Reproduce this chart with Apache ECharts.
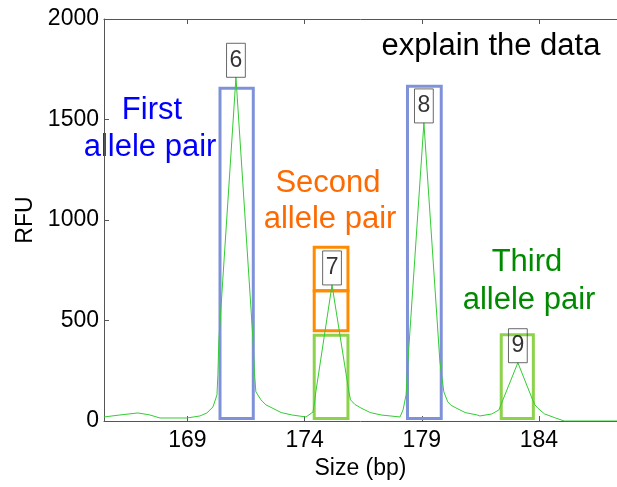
<!DOCTYPE html>
<html>
<head>
<meta charset="utf-8">
<script src="https://cdn.jsdelivr.net/npm/echarts@6/dist/echarts.min.js"></script>
<style>
  html, body { margin: 0; padding: 0; background: #fff; }
  #chart { width: 617px; height: 487px; }
</style>
</head>
<body>
<div id="chart"></div>
<script>
// electropherogram trace (size in bp, RFU)
const curveX = [165.44, 166.12, 166.89, 167.40, 167.83, 168.98, 169.53, 169.83, 170.09, 170.26,
  170.30, 170.34, 171.07, 171.80, 171.86, 171.92, 172.14, 172.35, 172.61, 173.00,
  173.46, 174.06, 174.36, 174.44, 174.48, 175.17, 175.89, 175.96, 176.15, 176.40,
  176.80, 177.26, 178.07, 178.20, 178.33, 178.41, 179.09, 179.77, 179.94, 180.11,
  180.25, 180.46, 180.85, 181.36, 181.48, 181.99, 182.29, 182.41, 183.10, 183.73,
  183.82, 183.94, 184.24, 184.71, 185.08, 187.33];
const curveY = [20, 30, 40, 30, 15, 15, 25, 40, 70, 130,
  230, 400, 1710, 400, 240, 145, 105, 80, 65, 42,
  30, 20, 45, 105, 145, 677, 145, 105, 82, 65,
  42, 30, 20, 55, 130, 300, 1483, 300, 145, 95,
  78, 65, 42, 30, 25, 35, 55, 90, 290, 105,
  82, 65, 35, 15, 0, 0];

// allele call labels
const peakNames = ['6', '7', '8', '9'];
const peakX = [171.07, 175.17, 179.09, 183.10];
const peakY = [1710, 677, 1483, 290];

// boxes around the peaks
const boxX0 = [170.39, 174.41, 174.41, 174.41, 178.39, 182.39];
const boxX1 = [171.81, 175.85, 175.85, 175.85, 179.83, 183.76];
const boxY0 = [12, 12, 449, 648, 12, 12];
const boxY1 = [1655, 426, 648, 864, 1665, 429];
const boxKind = ['pair', 'call', 'extra', 'extra', 'pair', 'call'];

const xTicks = [169, 174, 179, 184];
const xMin = 165.44, xMax = 187.33;

const FONT = "'Liberation Sans', Arial, Helvetica, sans-serif";
const axisColor = '#555';
const boxColors = { pair: '#7f92d9', call: '#8cd24a', extra: '#ff8c00' };

const chart = echarts.init(document.getElementById('chart'));

const areas = boxX0.map((x0, i) => [
  { coord: [x0, boxY0[i]], itemStyle: { borderColor: boxColors[boxKind[i]] } },
  { coord: [boxX1[i], boxY1[i]] }
]);

chart.setOption({
  animation: false,
  grid: { left: 104, right: 0, top: 19, bottom: 66 },
  xAxis: [
    {
      type: 'value', min: xMin, max: xMax,
      name: 'Size (bp)', nameLocation: 'middle', nameGap: 34,
      nameTextStyle: { fontFamily: FONT, fontSize: 23, color: '#000' },
      axisLine: { lineStyle: { color: axisColor, width: 1 } },
      axisTick: { inside: true, length: 5, customValues: xTicks, lineStyle: { color: axisColor } },
      axisLabel: { customValues: xTicks, margin: 8, fontFamily: FONT, fontSize: 23, color: '#000' },
      splitLine: { show: false }
    },
    {
      type: 'value', min: xMin, max: xMax, position: 'top',
      axisLine: { show: true, lineStyle: { color: axisColor, width: 1 } },
      axisTick: { inside: true, length: 5, customValues: xTicks, lineStyle: { color: axisColor } },
      axisLabel: { show: false },
      splitLine: { show: false }
    }
  ],
  yAxis: {
    type: 'value', min: 0, max: 2000, interval: 500,
    name: 'RFU', nameLocation: 'middle', nameGap: 55,
    nameTextStyle: { fontFamily: FONT, fontSize: 23, color: '#000' },
    axisLine: { show: true, lineStyle: { color: axisColor, width: 1 } },
    axisTick: { inside: true, length: 5, lineStyle: { color: axisColor } },
    axisLabel: { margin: 5, fontFamily: FONT, fontSize: 23, color: '#000', formatter: (v) => String(v) },
    splitLine: { show: false }
  },
  series: [
    {
      type: 'line',
      data: curveX.map((x, i) => [x, curveY[i]]),
      showSymbol: false,
      lineStyle: { color: '#33cc33', width: 1 },
      z: 2
    },
    {
      type: 'line',
      data: [],
      z: 3,
      markArea: {
        silent: true,
        itemStyle: { color: 'rgba(0,0,0,0)', borderWidth: 3 },
        data: areas
      }
    },
    {
      type: 'scatter',
      data: peakX.map((x, i) => [x, peakY[i], peakNames[i]]),
      symbolSize: 0,
      z: 4,
      label: {
        show: true,
        position: 'top',
        distance: 0,
        formatter: (p) => p.data[2],
        fontFamily: FONT,
        fontSize: 23,
        lineHeight: 24,
        color: '#000',
        borderColor: '#444',
        borderWidth: 1,
        padding: [5, 3, 5, 3]
      }
    }
  ],
  graphic: [
    { type: 'text', style: { x: 491, y: 46, text: 'explain the data', font: '31px ' + FONT, fill: '#000', align: 'center', verticalAlign: 'middle' } },
    { type: 'text', style: { x: 152, y: 110, text: 'First', font: '31px ' + FONT, fill: '#0000ff', align: 'center', verticalAlign: 'middle' } },
    { type: 'text', style: { x: 150, y: 147, text: 'allele pair', font: '31px ' + FONT, fill: '#0000ff', align: 'center', verticalAlign: 'middle' } },
    { type: 'text', style: { x: 328, y: 183, text: 'Second', font: '31px ' + FONT, fill: '#ff6a00', align: 'center', verticalAlign: 'middle' } },
    { type: 'text', style: { x: 330, y: 219, text: 'allele pair', font: '31px ' + FONT, fill: '#ff6a00', align: 'center', verticalAlign: 'middle' } },
    { type: 'text', style: { x: 527, y: 262, text: 'Third', font: '31px ' + FONT, fill: '#008a00', align: 'center', verticalAlign: 'middle' } },
    { type: 'text', style: { x: 529, y: 300, text: 'allele pair', font: '31px ' + FONT, fill: '#008a00', align: 'center', verticalAlign: 'middle' } }
  ]
});
</script>
</body>
</html>
